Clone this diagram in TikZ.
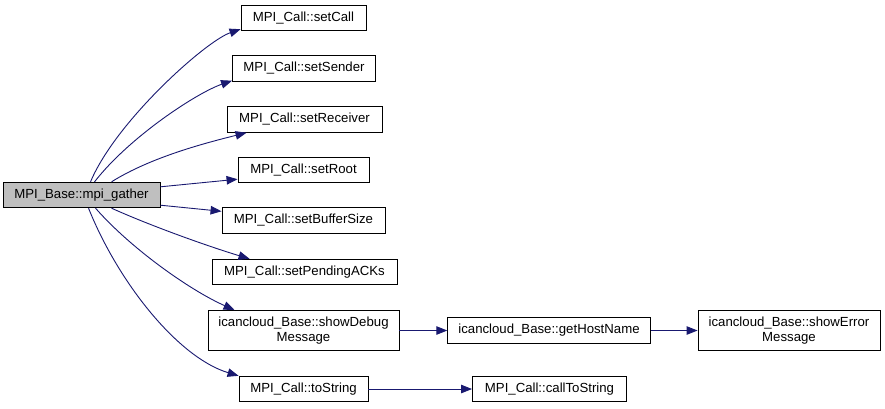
\documentclass[tikz,border=0pt]{standalone}
\usepackage{fontspec}
\setmainfont{Liberation Sans}
\usetikzlibrary{arrows.meta}
\definecolor{edgeblue}{HTML}{191970}
\definecolor{maingrey}{HTML}{BFBFBF}
\begin{document}
\begin{tikzpicture}[x=1pt,y=-1pt,
  fn/.style={draw=black,line width=0.9pt,fill=white,inner sep=0pt,minimum height=25.5pt,align=center,
    font=\fontsize{13.2}{14.5}\selectfont},
  fn2/.style={fn,minimum height=40pt},
  call/.style={draw=edgeblue,line width=0.9pt,-{Triangle[length=11pt,width=8.5pt]}}]
\useasboundingbox (0,0) rectangle (885,408);
\node[fn,fill=maingrey,minimum width=157pt] (main) at (81.5,195) {MPI\_Base::mpi\_gather};
\node[fn,minimum width=125pt] (setCall) at (303.5,18) {MPI\_Call::setCall};
\node[fn,minimum width=143pt] (setSender) at (304,68.5) {MPI\_Call::setSender};
\node[fn,minimum width=155pt] (setReceiver) at (304.5,119.5) {MPI\_Call::setReceiver};
\node[fn,minimum width=131pt] (setRoot) at (303.5,170) {MPI\_Call::setRoot};
\node[fn,minimum width=163pt] (setBuf) at (303.5,220.5) {MPI\_Call::setBufferSize};
\node[fn,minimum width=185pt] (setPend) at (304.5,272) {MPI\_Call::setPendingACKs};
\node[fn2,minimum width=191pt] (showDebug) at (303.5,330.5) {icancloud\_Base::showDebug\\Message};
\node[fn,minimum width=129pt] (toString) at (303.5,389) {MPI\_Call::toString};
\node[fn,minimum width=202.5pt] (getHost) at (549,330.5) {icancloud\_Base::getHostName};
\node[fn,minimum width=154pt] (callTo) at (549.5,389) {MPI\_Call::callToString};
\node[fn2,minimum width=182pt] (showError) at (789,330.5) {icancloud\_Base::showError\\Message};

\draw[call] ([xshift=88pt]main.north west) .. controls +(25,-60) and +(-35,12) .. ([yshift=2pt]setCall.south west);
\draw[call] ([xshift=92pt]main.north west) .. controls +(35,-45) and +(-35,12) .. ([yshift=1pt]setSender.south west);
\draw[call] ([xshift=109pt]main.north west) .. controls +(40,-25) and +(-40,10) .. ([xshift=20pt]setReceiver.south west);
\draw[call] ([yshift=-5pt]main.north east) -- ([yshift=4pt]setRoot.south west);
\draw[call] ([yshift=3pt]main.south east) -- ([yshift=-4pt]setBuf.north west);
\draw[call] ([xshift=109pt]main.south west) .. controls +(40,18) and +(-40,-12) .. ([xshift=38pt]setPend.north west);
\draw[call] ([xshift=93pt]main.south west) .. controls +(35,40) and +(-45,-20) .. ([xshift=27pt]showDebug.north west);
\draw[call] ([xshift=86pt]main.south west) .. controls +(30,75) and +(-60,-18) .. (toString.north west);

\draw[call] (showDebug.east) -- (getHost.west);
\draw[call] (getHost.east) -- (showError.west);
\draw[call] (toString.east) -- (callTo.west);
\end{tikzpicture}
\end{document}
